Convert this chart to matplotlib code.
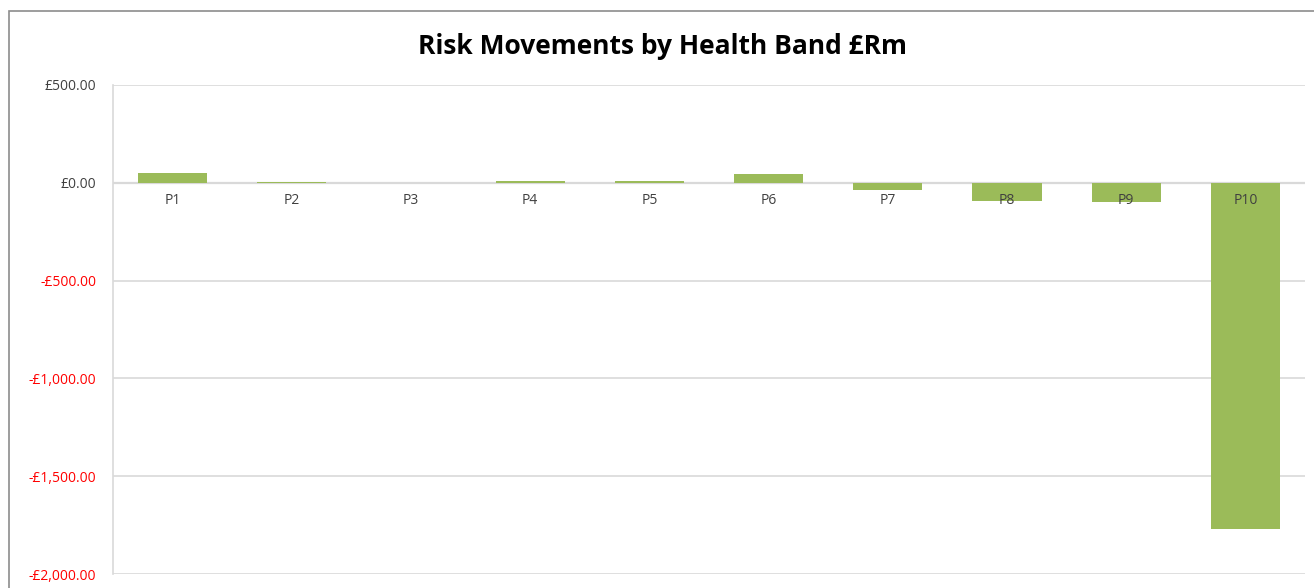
import matplotlib
matplotlib.use("Agg")
import matplotlib.pyplot as plt
from matplotlib.patches import Rectangle
from matplotlib.ticker import FuncFormatter

categories = ["P1", "P2", "P3", "P4", "P5", "P6", "P7", "P8", "P9", "P10"]
movements = [48, 4, 0, 9, 8, 47, -39, -92, -98, -1770]
y_ticks = [500, 0, -500, -1000, -1500, -2000]

W, H = 1314, 588
fig = plt.figure(figsize=(W / 100, H / 100), dpi=100)
plt.rcParams['font.family'] = ['Open Sans', 'DejaVu Sans']

# chart frame (clipped on the right and bottom)
fig.patches.append(Rectangle((9 / W, -0.1), 1.2, 1 - 11 / H + 0.1,
                             transform=fig.transFigure, fill=False,
                             edgecolor="#8c8c8c", linewidth=1.2))

ax = fig.add_axes([113 / W, 1 - 574 / H, (1305 - 113) / W, (574 - 85) / H])
x = list(range(len(categories)))
ax.bar(x, movements, width=0.58, color="#9BBB59", edgecolor="none",
       linewidth=0, zorder=2)

ax.set_xlim(-0.5, len(categories) - 0.5)
ax.set_ylim(-2000, 500)
ax.set_yticks(y_ticks)


def money(v, pos=None):
    s = "£{:,.2f}".format(abs(v))
    return "-" + s if v < 0 else s


ax.yaxis.set_major_formatter(FuncFormatter(money))
ax.tick_params(axis="y", length=0, pad=12, labelsize=10)
for lbl, v in zip(ax.get_yticklabels(), y_ticks):
    lbl.set_color("#ff0000" if v < 0 else "#404040")

ax.set_xticks([])
ax.grid(axis="y", color="#d9d9d9", linewidth=1.2, zorder=0)
ax.set_axisbelow(True)
for side in ("top", "right", "bottom"):
    ax.spines[side].set_visible(False)
ax.spines["left"].set_color("#d9d9d9")
ax.spines["left"].set_linewidth(1.2)
ax.axhline(0, color="#d9d9d9", linewidth=1.6, zorder=1)

for xi, name in zip(x, categories):
    ax.annotate(name, (xi, 0), xytext=(0, -7), textcoords="offset points",
                ha="center", va="top", fontsize=10, color="#404040", zorder=5)

fig.text(0.5 + 5 / W, 1 - 46 / H, "Risk Movements by Health Band £Rm",
         ha="center", va="center", fontsize=19, fontweight="bold",
         fontstretch="condensed", color="black")

fig.savefig("out.png", dpi=100, facecolor="white")
